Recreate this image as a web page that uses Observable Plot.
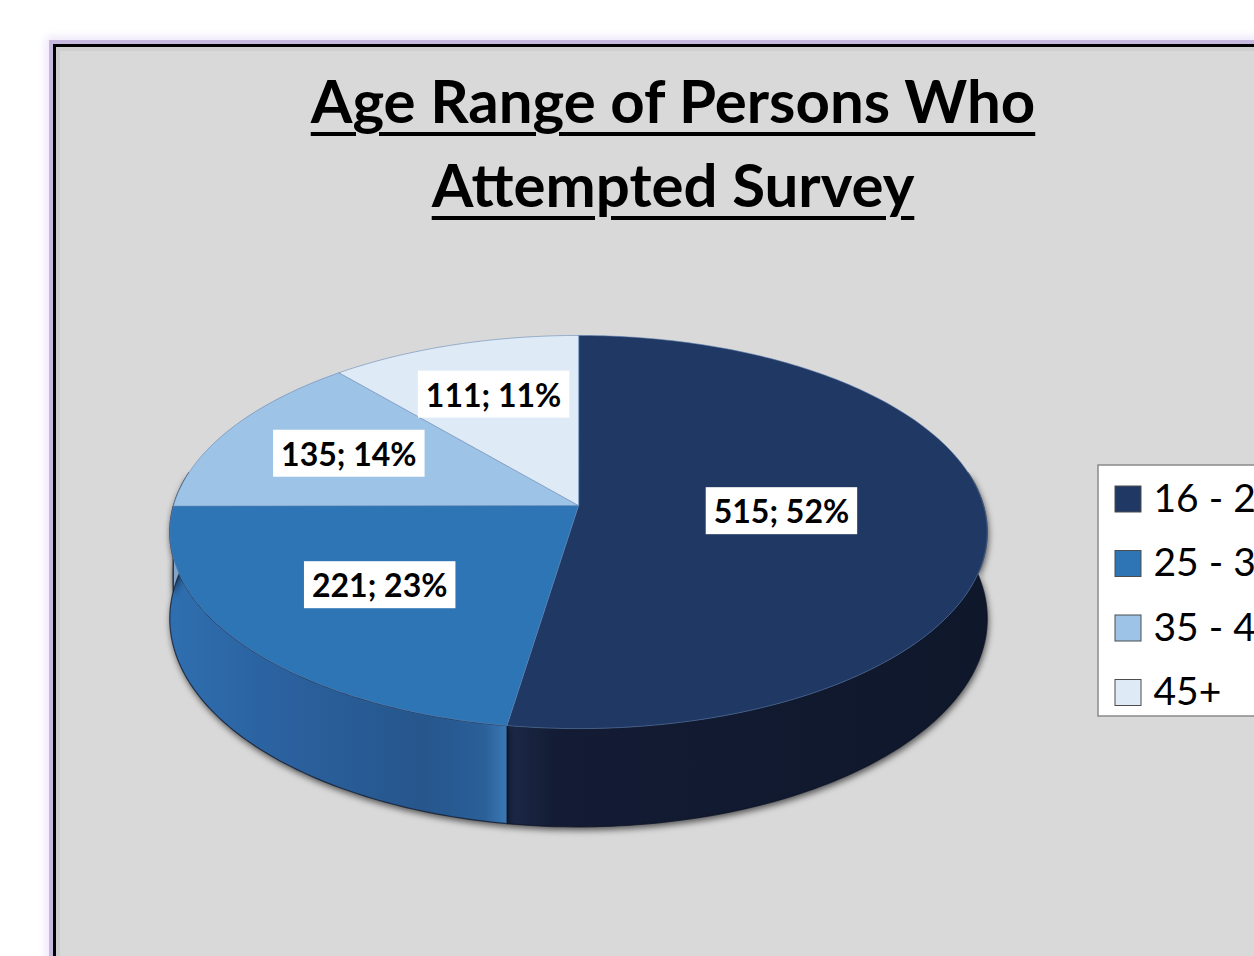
<!DOCTYPE html>
<html><head><meta charset="utf-8">
<script src="https://cdn.jsdelivr.net/npm/d3@7"></script>
<script src="https://cdn.jsdelivr.net/npm/@observablehq/plot@0.6"></script>
<style>
html,body{margin:0;padding:0;background:#fff;overflow:hidden;width:1254px;height:956px}
#frame{position:absolute;left:53px;top:44px;width:1300px;height:1000px;box-sizing:border-box;border:3px solid #000;background:#d9d9d9;
 box-shadow:0 0 0 4px #c6b8df,0 0 9px 7px #ede5f8, inset 0 0 0 4px #cfcfcf}
#title{position:absolute;left:0;width:1346px;top:58px;text-align:center;font-family:Lato;font-weight:700;font-size:60px;line-height:84px;color:#000;
 text-decoration:underline;text-decoration-thickness:4px;text-underline-offset:9px}
#chart{position:absolute;left:0;top:0}
</style></head><body>
<div id="frame"></div>
<div id="title"></div>
<div id="chart"></div>
<script>
// ---- data ----
const titleLines = ["Age Range of Persons Who", "Attempted Survey"];
const categories = ["16 - 24", "25 - 34", "35 - 44", "45+"];
const counts = [515, 221, 135, 111];
const percents = [52, 23, 14, 11];

// ---- styles ----
const topColors = ["#203864", "#2e75b6", "#9dc3e6", "#deebf7"];
const sideStops = [
  [["0%", "#1b2948"], ["10%", "#131c34"], ["100%", "#0f172b"]],
  [["0%", "#2f6fb0"], ["30%", "#2b62a0"], ["75%", "#26568c"], ["93%", "#2a5f98"], ["100%", "#3b79b4"]],
  [["0%", "#86a8cc"], ["100%", "#6f93bb"]],
  [["0%", "#c5d5e8"], ["100%", "#b0c4dc"]]
];

document.getElementById("title").innerHTML = titleLines.join("<br>");

// ---- geometry (3D pie with perspective) ----
const CX = 578, CY = 505, A = 405, B = 193, P = 0.135, D = 85;
const proj = (t, r = 1, drop = 0) => {
  const u = r * Math.sin(t), v = r * Math.cos(t), w = 1 + P * v;
  return [CX + A * u / w, CY - B * v / w + drop / w];
};
const total = d3.sum(counts);
const ends = Array.from(d3.cumsum(counts));
const slices = categories.map((c, i) => ({
  i, cat: c, count: counts[i], pct: percents[i],
  a0: 2 * Math.PI * (ends[i] - counts[i]) / total,
  a1: 2 * Math.PI * ends[i] / total
}));
const STEP = Math.PI / 180;
const arcAngles = (a0, a1) => {
  const n = Math.max(2, Math.ceil((a1 - a0) / STEP));
  return d3.range(n + 1).map(k => a0 + (a1 - a0) * k / n);
};
const topPts = slices.flatMap(s => [
  {cat: s.cat, p: [CX, CY]},
  ...arcAngles(s.a0, s.a1).map(t => ({cat: s.cat, p: proj(t)}))
]);
const V0 = 80 * Math.PI / 180, V1 = 280 * Math.PI / 180;
const sides = slices.map(s => {
  const a = Math.max(s.a0, V0), b = Math.min(s.a1, V1);
  if (b <= a) return null;
  const ang = arcAngles(a, b);
  return {s, pts: [...ang.map(t => proj(t)), ...ang.slice().reverse().map(t => proj(t, 1, D))]};
}).filter(Boolean);
const labels = slices.map(s => {
  const half = (s.a1 - s.a0) / 2, mid = s.a0 + half;
  const r = Math.max(0.5, (2 / 3) * Math.sin(half) / half);
  const [x, y] = proj(mid, r);
  return {x, y, label: `${s.count}; ${s.pct}%`};
});

// legend layout
const LEG_X = 1115, LEG_Y0 = 499, LEG_DY = 64.5, SW = 26;

const chart = Plot.plot({
  width: 1254, height: 956, margin: 0,
  x: {type: "identity", axis: null},
  y: {type: "identity", axis: null},
  color: {type: "ordinal", domain: categories, range: topColors},
  style: {background: "transparent", fontFamily: "Lato"},
  marks: [
    () => {
      const defs = d3.create("svg:defs");
      sideStops.forEach((stops, i) => {
        const g = defs.append("linearGradient").attr("id", "side" + i)
          .attr("x1", "0").attr("x2", "1").attr("y1", "0").attr("y2", "0");
        stops.forEach(([o, c]) => g.append("stop").attr("offset", o).attr("stop-color", c));
      });
      return defs.node();
    },
    ...sides.map(sd => Plot.line(sd.pts, {
      x: d => d[0], y: d => d[1], fill: `url(#side${sd.s.i})`,
      stroke: "#0b1224", strokeWidth: 1.2, strokeOpacity: 0.7, curve: "linear-closed"
    })),
    Plot.line(topPts, {
      x: d => d.p[0], y: d => d.p[1], z: "cat", fill: "cat",
      stroke: "#5f82b0", strokeOpacity: 0.55, strokeWidth: 1, curve: "linear-closed"
    }),
    Plot.text(labels, {x: "x", y: "y", text: "label", fontSize: 32, fontWeight: "bold", fill: "#000"}),
    Plot.rect([0], {x1: 1098, x2: 1320, y1: 465, y2: 716, fill: "#fff", stroke: "#8a8a8a", strokeWidth: 1.5}),
    Plot.rect(categories, {
      x1: LEG_X, x2: LEG_X + SW,
      y1: (d, i) => LEG_Y0 + i * LEG_DY - SW / 2, y2: (d, i) => LEG_Y0 + i * LEG_DY + SW / 2,
      fill: d => d, stroke: "#4d4d4d", strokeWidth: 1
    }),
    Plot.text(categories, {
      x: LEG_X + 38, y: (d, i) => LEG_Y0 + i * LEG_DY, text: d => d,
      textAnchor: "start", fontSize: 39, fill: "#000"
    })
  ]
});
document.getElementById("chart").append(chart);

// shadows on side faces
chart.querySelectorAll('g[aria-label="line"]').forEach((g, k) => {
  if (k < sides.length) g.style.filter = "drop-shadow(1px 3px 3px rgba(0,0,0,0.6))";
});
// white boxes behind data labels
const labelGroup = chart.querySelectorAll('g[aria-label="text"]')[0];
labelGroup.querySelectorAll("text").forEach(t => {
  const bb = t.getBBox();
  const r = document.createElementNS("http://www.w3.org/2000/svg", "rect");
  r.setAttribute("x", bb.x - 8); r.setAttribute("y", bb.y - 4);
  r.setAttribute("width", bb.width + 16); r.setAttribute("height", bb.height + 8);
  r.setAttribute("fill", "#fff");
  if (t.getAttribute("transform")) r.setAttribute("transform", t.getAttribute("transform"));
  t.parentNode.insertBefore(r, t);
});
</script>
</body></html>
